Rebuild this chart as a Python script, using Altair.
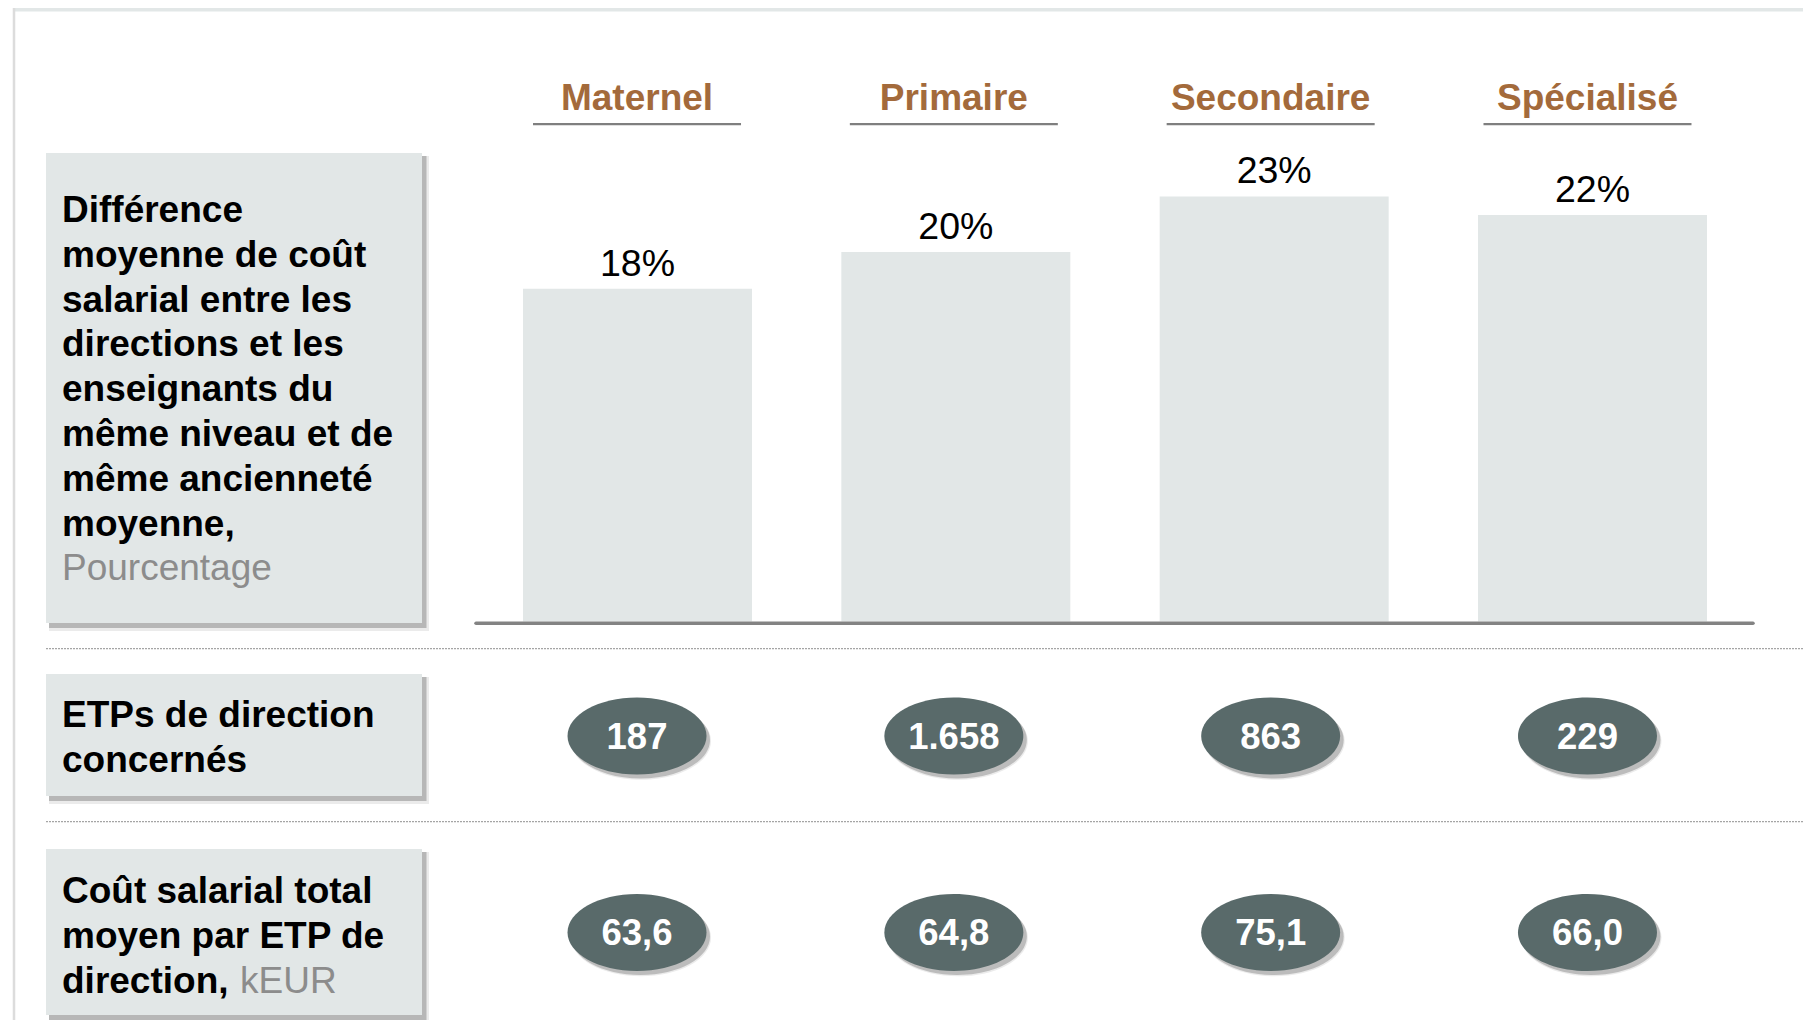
import altair as alt
import pandas as pd

# ---------------- data ----------------
categories = ["Maternel", "Primaire", "Secondaire", "Spécialisé"]
pct_values = [18, 20, 23, 22]
etp_values = [187, 1658, 863, 229]
cost_values = [63.6, 64.8, 75.1, 66.0]

row1_bold = ["Différence", "moyenne de coût", "salarial entre les", "directions et les",
             "enseignants du", "même niveau et de", "même ancienneté", "moyenne,"]
row1_unit = "Pourcentage"
row2_bold = ["ETPs de direction", "concernés"]
row3_bold = ["Coût salarial total", "moyen par ETP de", "direction,"]
row3_unit = "kEUR"


def fr_int(v):
    return f"{v:,}".replace(",", ".")


def fr_dec(v):
    return f"{v:.1f}".replace(".", ",")


df = pd.DataFrame({
    "cat": categories,
    "pct": pct_values,
    "pct_label": [f"{v}%" for v in pct_values],
    "etp": [fr_int(v) for v in etp_values],
    "cost": [fr_dec(v) for v in cost_values],
})
one = pd.DataFrame({"k": [0]})

# ---------------- styles ----------------
FONT = "Liberation Sans"
LIGHT = "#E2E7E7"
BROWN = "#A36A3B"
DARK = "#596A6A"
UNIT = "#8C8C8C"
W, H = 1795, 1012

X = alt.X("cat:N", sort=categories, axis=None,
          scale=alt.Scale(domain=categories, range=[470.6, 1737.9],
                          paddingInner=0, paddingOuter=0))
XB = alt.X("cat:N", sort=categories, axis=None,
           scale=alt.Scale(domain=categories, range=[470.3, 1743.7],
                           paddingInner=0, paddingOuter=0))
Y = alt.Y("pct:Q", axis=None, scale=alt.Scale(domain=[0, 25], range=[613.5, 151.5]))

ELLIPSE = "M -1 0 A 1 0.554 0 1 0 1 0 A 1 0.554 0 1 0 -1 0 Z"
ESIZE = 139 * 139

layers = []

# page decorations
base = alt.Chart(one)
layers.append(base.mark_rect(color=LIGHT).encode(
    x=alt.value(5), x2=alt.value(W), y=alt.value(0), y2=alt.value(3.5)))
layers.append(base.mark_rule(color="#DCDCDC", strokeWidth=2.5).encode(
    x=alt.value(6), y=alt.value(0), y2=alt.value(H)))


def box(x0, y0, x1, y1):
    out = []
    out.append(base.mark_rect(color="#000000", opacity=0.08).encode(
        x=alt.value(x0 + 3), x2=alt.value(x1 + 7), y=alt.value(y0 + 3), y2=alt.value(y1 + 8)))
    out.append(base.mark_rect(color="#000000", opacity=0.22).encode(
        x=alt.value(x0 + 3), x2=alt.value(x1 + 4.5), y=alt.value(y0 + 3), y2=alt.value(y1 + 5)))
    out.append(base.mark_rect(color=LIGHT).encode(
        x=alt.value(x0), x2=alt.value(x1), y=alt.value(y0), y2=alt.value(y1)))
    return out


layers += box(38, 145, 414, 615)
layers += box(38, 666, 414, 788)
layers += box(38, 841, 414, 1007)

bold_txt = dict(font=FONT, fontSize=37, fontWeight="bold", color="#000000",
                align="left", baseline="alphabetic", lineHeight=44.8)
unit_txt = dict(font=FONT, fontSize=37, fontWeight="normal", color=UNIT,
                align="left", baseline="alphabetic")

layers.append(base.mark_text(**bold_txt).encode(
    x=alt.value(54), y=alt.value(214), text=alt.value(row1_bold)))
layers.append(base.mark_text(**unit_txt).encode(
    x=alt.value(54), y=alt.value(214 + 8 * 44.8), text=alt.value(row1_unit)))
layers.append(base.mark_text(**bold_txt).encode(
    x=alt.value(54), y=alt.value(719), text=alt.value(row2_bold)))
layers.append(base.mark_text(**bold_txt).encode(
    x=alt.value(54), y=alt.value(895), text=alt.value(row3_bold)))
layers.append(base.mark_text(**unit_txt).encode(
    x=alt.value(232), y=alt.value(895 + 2 * 44.8), text=alt.value(row3_unit)))

# category data layers
c = alt.Chart(df)
layers.append(c.mark_text(font=FONT, fontSize=37, fontWeight="bold", color=BROWN,
                          baseline="alphabetic").encode(
    x=X, y=alt.value(102), text="cat:N"))
layers.append(c.mark_bar(width=208, color="#7F7F7F").encode(
    x=X, y=alt.value(115), y2=alt.value(117.2)))
layers.append(c.mark_bar(width=229, color=LIGHT).encode(x=XB, y=Y))
layers.append(c.mark_text(font=FONT, fontSize=37.5, color="#000000",
                          baseline="alphabetic", dy=-13).encode(
    x=XB, y=Y, text="pct_label:N"))

# axis baseline and separators
layers.append(base.mark_rule(color="#838383", strokeWidth=3.5, strokeCap="round").encode(
    x=alt.value(468), x2=alt.value(1745), y=alt.value(615.3)))
for yy in (640.7, 813.7):
    layers.append(base.mark_rule(color="#A5A5A5", strokeWidth=1.2, strokeDash=[2, 1]).encode(
        x=alt.value(38), x2=alt.value(1797), y=alt.value(yy)))

# ellipses rows
for yy, field in ((728, "etp"), (924.5, "cost")):
    layers.append(c.mark_point(shape=ELLIPSE, filled=True, size=ESIZE + 300, color="#000000",
                               opacity=0.08, xOffset=4, yOffset=5).encode(
        x=X, y=alt.value(yy)))
    layers.append(c.mark_point(shape=ELLIPSE, filled=True, size=ESIZE, color="#000000",
                               opacity=0.2, xOffset=3.5, yOffset=4).encode(
        x=X, y=alt.value(yy)))
    layers.append(c.mark_point(shape=ELLIPSE, filled=True, size=ESIZE, color=DARK,
                               opacity=1, strokeWidth=0).encode(
        x=X, y=alt.value(yy)))
    layers.append(c.mark_text(font=FONT, fontSize=36.5, fontWeight="bold", color="#FFFFFF",
                              baseline="middle", dy=1.5).encode(
        x=X, y=alt.value(yy), text=f"{field}:N"))

chart = alt.layer(*layers).resolve_scale(x="independent").properties(
    width=W, height=H, padding=0,
    autosize=alt.AutoSizeParams(type="none"),
).configure_view(stroke=None)

chart.save("out.html", embed_options={"renderer": "svg", "actions": False})
